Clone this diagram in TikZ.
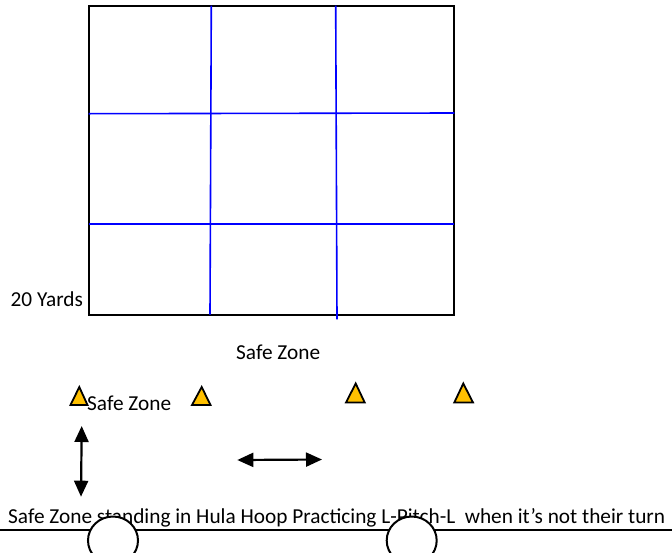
\documentclass[tikz,border=0pt]{standalone}
\usepackage{fontspec}
\setmainfont{Carlito}
\usetikzlibrary{arrows.meta,shapes.geometric}
\definecolor{conefill}{HTML}{FFC000}
\definecolor{gridblue}{HTML}{0000FF}
\tikzset{
  lbl/.style={anchor=base west, inner sep=0pt, font=\fontsize{21.3}{25}\selectfont},
  outer/.style={draw=black, line width=2pt},
  gridline/.style={draw=gridblue, line width=1.6pt},
  cone/.style={draw=black, fill=conefill, line width=1.8pt, line join=miter},
  dblarrow/.style={line width=2.2pt, {Triangle[length=16pt,width=14pt]}-{Triangle[length=16pt,width=14pt]}},
  hoop/.style={draw=black, fill=white, line width=2pt, ellipse, minimum width=50pt, minimum height=48pt, inner sep=0pt},
}
\begin{document}
\begin{tikzpicture}[x=1pt,y=-1pt]
\useasboundingbox (0,0) rectangle (672,552);
% grid
\draw[outer] (88.7,5.7) rectangle (454.3,314.7);
\draw[gridline] (211.3,5.7) -- (210,314.7);
\draw[gridline] (335.7,5.7) -- (337,319.3);
\draw[gridline] (88.7,113.7) -- (454.3,113);
\draw[gridline] (88.7,224) -- (454.3,224);
\node[lbl] (yards) at (10.5,306.7) {20 Yards};
% labels
\node[lbl] (safe1) at (236,359.3) {Safe Zone};
% cones
\draw[cone] (79.3,387) -- (87.5,405) -- (70.5,405) -- cycle;
\draw[cone] (201.7,387) -- (210.5,405) -- (192,405) -- cycle;
\draw[cone] (355.7,383.5) -- (364.7,402.5) -- (346,402.5) -- cycle;
\draw[cone] (463.3,383.5) -- (473,402.5) -- (454.3,402.5) -- cycle;
\node[lbl] (safe2) at (87,410.7) {Safe Zone};
% arrows
\coordinate (v1) at (81.7,426);
\coordinate (v2) at (81,496.7);
\draw[dblarrow] (v1) -- (v2);
\coordinate (h1) at (237.3,460);
\coordinate (h2) at (322,459.5);
\draw[dblarrow] (h1) -- (h2);
% bottom
\node[lbl] (bottom) at (8,523.3) {Safe Zone standing in Hula Hoop Practicing L-Pitch-L \ when it’s not their turn};
\coordinate (l1) at (0,530);
\coordinate (l2) at (672,530);
\draw[line width=2pt] (l1) -- (l2);
\node[hoop] (hoop1) at (113,540.5) {};
\node[hoop] (hoop2) at (411.7,540.5) {};
\end{tikzpicture}
\end{document}
